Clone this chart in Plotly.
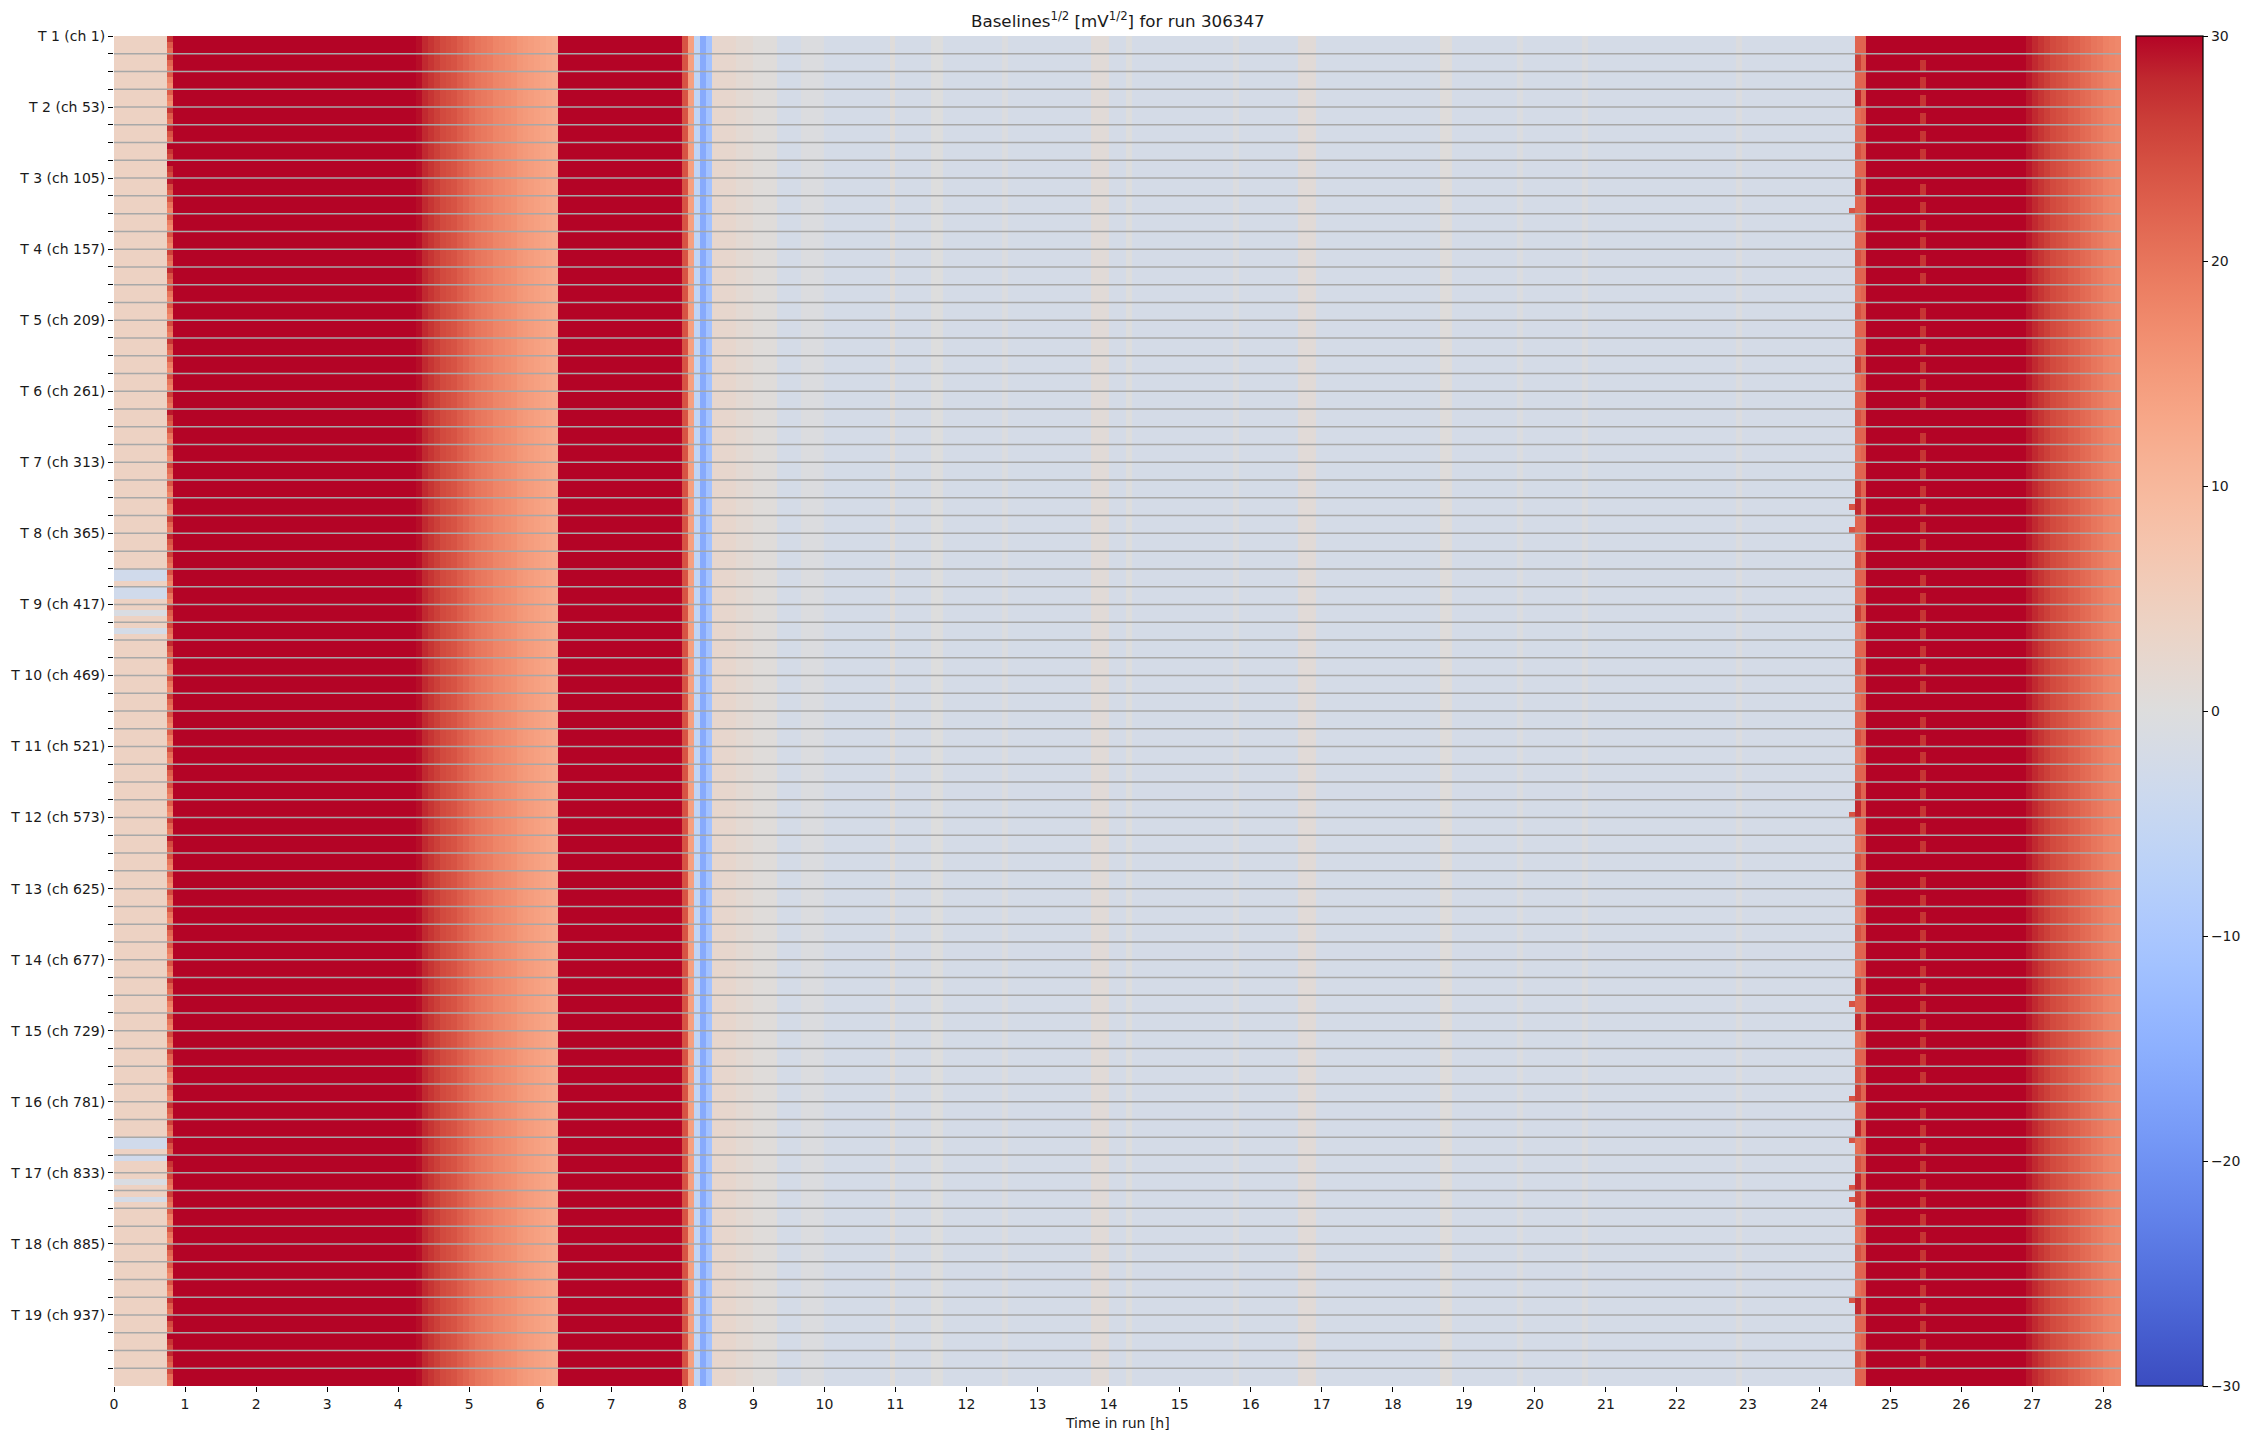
import plotly.graph_objects as go

# ---------------- data ----------------
N_BANDS = 76          # groups of 13 channels (988 channels total)
SUB = 3               # displayed sub-rows per group
CH_PER_BAND = 13
N_COL = 339           # 5-minute time bins, 0 .. 28.25 h
BIN_H = 1 / 12

# flat parts of the time profile: (start_h, end_h, baseline^1/2)
base_segments = [
    (0.0, 0.75, 4.0),
    (0.75, 0.833, 22.0),
    (0.833, 4.25, 32.0),
    (6.25, 8.0, 32.0),
    (8.0, 8.083, 24.0),
    (8.083, 8.167, 14.0),
    (8.167, 8.25, -6.0),
    (8.25, 8.333, -16.0),
    (8.333, 8.417, -11.0),
    (8.417, 8.75, 2.5),
    (8.75, 9.0, 1.5),
    (9.0, 9.333, 0.5),
    (9.333, 24.5, -2.0),
    (24.5, 24.583, 6.0),
    (24.583, 24.667, 22.0),
    (24.667, 26.917, 32.0),
]
# faint lighter stripes inside the quiet period: (start_h, end_h, value)
quiet_stripes = [
    (9.667, 10.0, -0.5), (10.917, 11.0, 0.5),
    (11.5, 11.667, 0.0), (12.5, 12.583, -0.5), (13.75, 14.0, 1.0),
    (14.25, 14.333, 0.0), (15.75, 15.833, -0.5), (16.667, 16.917, 1.0),
    (18.667, 18.833, 0.5), (19.75, 19.833, -0.5), (20.667, 20.75, -0.5),
    (22.833, 22.917, -0.5),
]
# ramp down after first plateau (4.25 h .. 6.25 h, one value per bin)
ramp_1 = [29.5, 28, 27, 26, 25, 24.5, 24, 23, 22, 21, 20, 19.5,
          19, 18, 17.5, 17, 16.5, 15.5, 15, 14.5, 14, 13.5, 13, 12.5]
# ramp down at end of run (26.917 h .. 28.25 h)
ramp_2 = [29, 28, 27, 26, 25, 24.5, 24, 23, 22.5, 21.5, 21, 20,
          19.5, 18.5, 18, 17.5]

# per-group value of the 0.75-0.83 h transition bin
trans_start = [23, 22, 19, 19, 23, 24, 27, 27, 25, 20,
               19, 20, 22, 24, 20, 19, 21, 23, 19, 20,
               22, 25, 20, 19, 21, 20, 19, 22, 24, 22,
               20, 20, 23, 21, 24, 19, 20, 22, 20, 19,
               21, 23, 20, 19, 22, 25, 20, 19, 21, 20,
               22, 19, 20, 23, 19, 20, 21, 22, 19, 20,
               23, 22, 24, 27, 21, 22, 19, 20, 22, 19,
               20, 23, 25, 27, 24, 21]
# per-group value of the 24.58-24.67 h transition bin
trans_end = [22, 26, 22, 28, 21, 22, 24, 22, 26, 22,
             21, 22, 24, 22, 21, 24, 22, 22, 26, 21,
             22, 24, 22, 21, 22, 26, 28, 22, 21, 24,
             22, 22, 26, 21, 22, 24, 22, 21, 22, 24,
             21, 22, 26, 28, 22, 21, 24, 22, 22, 21,
             24, 22, 21, 26, 22, 28, 21, 22, 24, 26,
             22, 28, 21, 24, 28, 26, 22, 21, 24, 22,
             21, 28, 22, 21, 24, 22]
# groups where the lighter bin at 25.42-25.5 h appears
dip_groups = [1, 2, 3, 4, 5, 6, 8, 9, 10, 11, 12, 13, 15, 16, 17, 18, 19, 20,
              22, 23, 24, 25, 26, 27, 28, 30, 31, 32, 33, 34, 35, 36, 38, 39,
              40, 41, 42, 43, 44, 45, 47, 48, 49, 50, 51, 52, 53, 54, 55, 56,
              57, 58, 60, 61, 62, 63, 64, 65, 66, 67, 68, 69, 70, 71, 72, 73, 74]
dip_value = 27.0
# groups whose ramp-up at 24.4 h starts one bin early: (group, sub-row)
early_rows = [(9, 2), (26, 1), (27, 2), (43, 2), (54, 1), (59, 2), (62, 0),
              (64, 2), (65, 1), (71, 0)]
early_value = 24.0
# sub-rows that are below zero at the start of the run: (group, sub-row, value)
cold_start = [(30, 0, -3), (30, 1, -3), (31, 0, -3), (31, 1, -3),
              (32, 1, -1), (33, 1, -2), (62, 0, -3), (62, 1, -3),
              (63, 0, -3), (64, 1, -1), (65, 1, -2)]

tick_groups = 4       # labelled every 4 groups (52 channels)

# ---------------- build the matrix ----------------
edges_x = [k * BIN_H for k in range(N_COL + 1)]
edges_y = [j * CH_PER_BAND / SUB for j in range(N_BANDS * SUB + 1)]


def profile_value(t):
    for a, b, v in quiet_stripes:
        if a <= t < b:
            return v
    for a, b, v in base_segments:
        if a <= t < b:
            return v
    return 0.0


base = []
for k in range(N_COL):
    tc = (k + 0.5) * BIN_H
    if 4.25 <= tc < 6.25:
        base.append(ramp_1[int(round((tc - 4.25) / BIN_H - 0.5))])
    elif tc >= 26.917:
        base.append(ramp_2[min(len(ramp_2) - 1, int(round((tc - 26.917) / BIN_H - 0.5)))])
    else:
        base.append(profile_value(tc))

col_start = int(0.75 / BIN_H)
col_end = int(24.583 / BIN_H)
col_dip = int(25.417 / BIN_H)
col_early = int(24.417 / BIN_H)

z = []
for g in range(N_BANDS):
    for s in range(SUB):
        row = list(base)
        row[col_start] = trans_start[g] + (4 if s == 0 else 0) - (2 if s == 2 else 0)
        row[col_end] = trans_end[g]
        if g in dip_groups and s != 0:
            row[col_dip] = dip_value
        z.append(row)
for g, s in early_rows:
    z[g * SUB + s][col_early] = early_value
for g, s, v in cold_start:
    for k in range(col_start):
        z[g * SUB + s][k] = v

# matplotlib "coolwarm"
coolwarm = [
    (59, 76, 192), (68, 90, 204), (77, 104, 215), (87, 117, 225), (98, 130, 234),
    (108, 142, 241), (119, 154, 247), (130, 165, 251), (141, 176, 254), (152, 185, 255),
    (163, 194, 255), (174, 201, 253), (184, 208, 249), (194, 213, 244), (204, 217, 238),
    (213, 219, 230), (221, 221, 221), (229, 216, 209), (236, 211, 197), (241, 204, 185),
    (245, 196, 173), (247, 187, 160), (247, 177, 148), (247, 166, 135), (244, 154, 123),
    (241, 141, 111), (236, 127, 99), (229, 112, 88), (222, 96, 77), (213, 80, 66),
    (203, 62, 56), (192, 40, 47), (180, 4, 38)]
colorscale = [[i / (len(coolwarm) - 1), "rgb(%d,%d,%d)" % c] for i, c in enumerate(coolwarm)]

FONT = "DejaVu Sans"
TXT = "#1a1a1a"
fig = go.Figure()
fig.add_trace(go.Heatmap(
    z=z, x=edges_x, y=edges_y, zmin=-30, zmax=30, colorscale=colorscale,
    hoverongaps=False,
    colorbar=dict(
        thickness=67, len=1, lenmode="fraction", x=1.0075, xanchor="left",
        y=0.5, yanchor="middle", xpad=0, ypad=0,
        outlinewidth=1.2, outlinecolor="black",
        tickvals=[-30, -20, -10, 0, 10, 20, 30], ticks="outside", ticklen=5,
        tickcolor="black", tickfont=dict(family=FONT, size=14, color=TXT)),
))

# gray separators between 13-channel groups
for g in range(1, N_BANDS):
    fig.add_shape(type="line", xref="x", yref="y", x0=0, x1=N_COL * BIN_H,
                  y0=g * CH_PER_BAND, y1=g * CH_PER_BAND,
                  line=dict(color="#a8a8a8", width=1.5), layer="above")

major_vals = [g * CH_PER_BAND for g in range(0, N_BANDS, tick_groups)]
major_text = ["T %d (ch %d)" % (g // tick_groups + 1, g * CH_PER_BAND + 1)
              for g in range(0, N_BANDS, tick_groups)]
minor_vals = [g * CH_PER_BAND for g in range(N_BANDS) if g % tick_groups != 0]

# the page body adds an 8 px offset, so the figure is 8 px smaller each way
fig.update_layout(
    width=2244, height=1431,
    margin=dict(l=106, r=131, t=28, b=53, autoexpand=False),
    paper_bgcolor="white", plot_bgcolor="white",
    font=dict(family=FONT, size=14, color=TXT),
    showlegend=False,
    xaxis=dict(range=[0, N_COL * BIN_H], tick0=0, dtick=1, ticks="outside", ticklen=5,
               tickcolor="black", showgrid=False, zeroline=False, showline=False,
               automargin=False, tickfont=dict(family=FONT, size=14, color=TXT)),
    yaxis=dict(range=[N_BANDS * CH_PER_BAND, 0], tickmode="array", tickvals=major_vals,
               ticktext=major_text, ticks="outside", ticklen=5, tickcolor="black",
               minor=dict(tickmode="array", tickvals=minor_vals, ticks="outside",
                          ticklen=5, tickcolor="black", showgrid=False),
               showgrid=False, zeroline=False, showline=False, automargin=False,
               tickfont=dict(family=FONT, size=14, color=TXT)),
    annotations=[
        dict(text="Baselines<sup>1/2</sup> [mV<sup>1/2</sup>] for run 306347",
             xref="x domain", yref="paper", x=0.5, y=1, yanchor="bottom", yshift=3,
             showarrow=False, font=dict(family=FONT, size=16.7, color=TXT)),
        dict(text="Time in run [h]", xref="x domain", yref="paper", x=0.5, y=-0.0274,
             yanchor="middle", showarrow=False,
             font=dict(family=FONT, size=14, color=TXT)),
    ],
)

fig.write_html("out.html")
